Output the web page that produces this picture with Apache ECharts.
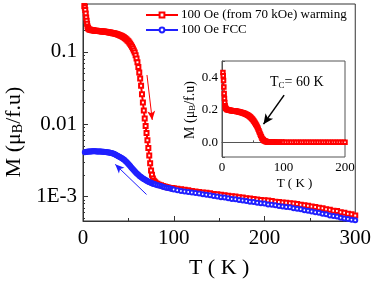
<!DOCTYPE html>
<html><head><meta charset="utf-8">
<script src="https://cdn.jsdelivr.net/npm/echarts@6/dist/echarts.min.js"></script>
<style>html,body{margin:0;padding:0;background:#fff}#c{width:374px;height:284px}</style>
</head><body><div id="c"></div><script>
// ---- data ----
const redName = '100 Oe (from 70 kOe) warming';
const blueName = '100 Oe FCC';
const redT = [1.5,2,2.5,3,3.5,4,4.5,5,5.5,6,7,8,9,10,11,12,13,14,15,16,17,18,19,20,21,22,23,24,25,26,27,28,29,30,31,32,33,34,35,36,37,38,39,40,41,42,43,44,45,46,47,48,49,50,51,52,53,54,55,56,57,58,59,60,61,62,63,64,65,66,67,68,69,70,71,72,73,74,75,76,77,78,79,80,82,84,86,88,90,92,94,96,98,100,104,108,112,116,120,124,128,132,136,140,144,148,152,156,160,164,168,172,176,180,184,188,192,196,200,204,208,212,216,220,224,228,232,236,240,244,248,252,256,260,264,268,272,276,280,284,288,292,296,300];
const redM = [0.43,0.41,0.38,0.34,0.30,0.27,0.245,0.225,0.215,0.21,0.205,0.202,0.201,0.2,0.199,0.198,0.197,0.196,0.196,0.195,0.195,0.194,0.193,0.193,0.192,0.192,0.191,0.19,0.19,0.189,0.188,0.187,0.186,0.185,0.184,0.183,0.182,0.181,0.18,0.178,0.177,0.175,0.173,0.171,0.169,0.167,0.165,0.162,0.159,0.156,0.152,0.148,0.144,0.14,0.135,0.13,0.124,0.118,0.112,0.105,0.098,0.09,0.081,0.072,0.062,0.052,0.043,0.034,0.026,0.02,0.0155,0.012,0.0095,0.0076,0.006,0.0047,0.0037,0.0029,0.0023,0.0020,0.00178,0.00166,0.0016,0.00156,0.0015,0.00146,0.00143,0.0014,0.00138,0.00136,0.00134,0.00132,0.00131,0.0013,0.00128,0.00126,0.00124,0.00122,0.0012,0.00118,0.00116,0.00114,0.00113,0.00111,0.00109,0.00108,0.00106,0.00104,0.00103,0.00101,0.001,0.00098,0.00097,0.00095,0.00094,0.00093,0.00091,0.0009,0.00089,0.00088,0.00087,0.00085,0.00084,0.00083,0.00082,0.00081,0.0008,0.00079,0.00077,0.00076,0.00075,0.00073,0.00072,0.0007,0.00069,0.00067,0.00066,0.00064,0.00063,0.00061,0.0006,0.00058,0.00057,0.00055];
const blueT = [2,3,4,5,6,7,8,9,10,11,12,13,14,15,16,17,18,19,20,21,22,23,24,25,26,27,28,29,30,31,32,33,34,35,36,37,38,39,40,41,42,43,44,45,46,47,48,49,50,51,52,53,54,55,56,57,58,59,60,61,62,63,64,65,66,67,68,69,70,71,72,73,74,75,76,77,78,79,80,82,84,86,88,90,92,94,96,98,100,104,108,112,116,120,124,128,132,136,140,144,148,152,156,160,164,168,172,176,180,184,188,192,196,200,204,208,212,216,220,224,228,232,236,240,244,248,252,256,260,264,268,272,276,280,284,288,292,296,300];
const blueM = [0.00412,0.00414,0.00416,0.00418,0.0042,0.00421,0.00422,0.00422,0.00423,0.00423,0.00423,0.00423,0.00423,0.00422,0.00422,0.00421,0.0042,0.0042,0.00419,0.00418,0.00417,0.00416,0.00415,0.00414,0.00412,0.0041,0.00408,0.00406,0.00404,0.00401,0.00398,0.00394,0.0039,0.00385,0.0038,0.00374,0.00368,0.00362,0.00356,0.0035,0.00344,0.00338,0.00332,0.00325,0.00317,0.00309,0.003,0.00291,0.00282,0.00273,0.00264,0.00255,0.00247,0.00239,0.00231,0.00224,0.00217,0.00211,0.00205,0.002,0.00195,0.0019,0.00186,0.00182,0.00178,0.00175,0.00172,0.00169,0.00166,0.00164,0.00161,0.00159,0.00157,0.00155,0.00153,0.00151,0.0015,0.00148,0.00147,0.00144,0.00142,0.0014,0.00137,0.00135,0.00133,0.00131,0.00129,0.00127,0.00125,0.00122,0.0012,0.00118,0.00116,0.00114,0.00112,0.0011,0.00108,0.00106,0.00104,0.00102,0.001,0.00098,0.00097,0.00095,0.00093,0.00092,0.0009,0.00088,0.00087,0.00085,0.00084,0.00082,0.00081,0.0008,0.00078,0.00077,0.00076,0.00074,0.00073,0.00072,0.00071,0.00069,0.00068,0.00067,0.00065,0.00064,0.00062,0.00061,0.0006,0.00058,0.00057,0.00055,0.00054,0.00053,0.00051,0.0005,0.00049,0.00048,0.00047];
const yTickValues = [0.1, 0.01, 0.001];
const yTickLabels = ['0.1', '0.01', '1E-3'];
const insetYTickValues = [0.0, 0.2, 0.4];
const insetYTickLabels = ['0.0', '0.2', '0.4'];
// arrows (annotation, in data coordinates)
const redArrow = [[70.5, 0.048], [76.3, 0.0115]];
const blueArrow = [[70, 0.00107], [35.5, 0.00279]];
const insetArrow = [[101, 0.29], [67.5, 0.112]];

// ---- chart ----
const FONT = 'Liberation Serif';
const RED = '#ff0000', BLUE = '#2020ff';
const redPairs = redT.map((t, i) => [t, redM[i]]);
const bluePairs = blueT.map((t, i) => [t, blueM[i]]);
const chart = echarts.init(document.getElementById('c'), null, {renderer: 'canvas'});

function logLabel(v) {
  for (let i = 0; i < yTickValues.length; i++) {
    if (Math.abs(Math.log10(v) - Math.log10(yTickValues[i])) < 1e-6) return yTickLabels[i];
  }
  return '';
}
function insetLabel(v) {
  for (let i = 0; i < insetYTickValues.length; i++) {
    if (Math.abs(v - insetYTickValues[i]) < 1e-6) return insetYTickLabels[i];
  }
  return '';
}
const axisCol = '#333';
const option = {
  animation: false,
  backgroundColor: '#fff',
  grid: [
    {left: 83, top: 4, width: 274, height: 220, show: true, borderColor: axisCol, borderWidth: 1},
    {left: 222, top: 61, width: 123, height: 96, show: true, borderColor: '#555', borderWidth: 1, backgroundColor: '#fff'}
  ],
  legend: {
    data: [redName, blueName], orient: 'vertical', left: 140, top: 3,
    itemWidth: 32, itemHeight: 6, itemGap: 1,
    textStyle: {fontFamily: FONT, fontSize: 13, lineHeight: 14, color: '#000', padding: [0,0,0,-2]}
  },
  xAxis: [
    {gridIndex: 0, type: 'value', min: 0, max: 300, interval: 100,
     axisLine: {lineStyle: {color: axisCol}}, axisTick: {inside: true, length: 5, lineStyle: {color: axisCol}},
     minorTick: {show: true, splitNumber: 2, length: 3, lineStyle: {color: axisCol}},
     splitLine: {show: false},
     axisLabel: {fontFamily: FONT, fontSize: 21, color: '#000', margin: 7},
     name: 'T ( K )', nameLocation: 'middle', nameGap: 36,
     nameTextStyle: {fontFamily: FONT, fontSize: 22, color: '#000'}},
    {gridIndex: 1, type: 'value', min: 0, max: 200, interval: 100,
     axisLine: {lineStyle: {color: '#555'}}, axisTick: {inside: true, length: 3, lineStyle: {color: '#555'}},
     minorTick: {show: true, splitNumber: 2, length: 2, lineStyle: {color: '#555'}},
     splitLine: {show: false},
     axisLabel: {fontFamily: FONT, fontSize: 13, color: '#000', margin: 4},
     name: 'T ( K )', nameLocation: 'middle', nameGap: 20,
     nameTextStyle: {fontFamily: FONT, fontSize: 13, color: '#000', padding: [0, 0, 0, 22]}}
  ],
  yAxis: [
    {gridIndex: 0, type: 'log', logBase: 10, min: 0.00046, max: 0.46,
     axisLine: {lineStyle: {color: axisCol}}, axisTick: {inside: true, length: 5, lineStyle: {color: axisCol}},
     minorTick: {show: true, splitNumber: 9, length: 2, lineStyle: {color: axisCol}},
     splitLine: {show: false},
     axisLabel: {fontFamily: FONT, fontSize: 21, color: '#000', margin: 6, formatter: logLabel, showMinLabel: true, showMaxLabel: true}},
    {gridIndex: 1, type: 'value', min: -0.09, max: 0.5, splitNumber: 3,
     axisLine: {lineStyle: {color: '#555'}}, axisTick: {inside: true, length: 3, lineStyle: {color: '#555'}},
     splitLine: {show: false},
     axisLabel: {fontFamily: FONT, fontSize: 13, color: '#000', margin: 4, formatter: insetLabel}},
  ],
  series: [
    {name: redName, type: 'line', xAxisIndex: 0, yAxisIndex: 0, data: redPairs,
     symbol: 'emptyRect', symbolSize: 4, showAllSymbol: true,
     itemStyle: {color: RED, borderWidth: 1}, lineStyle: {color: RED, width: 2}, z: 3,
     markLine: {silent: true, symbol: ['none', 'arrow'], symbolSize: [6, 9], label: {show: false},
       lineStyle: {color: RED, width: 1, type: 'solid'},
       data: [[{coord: redArrow[0]}, {coord: redArrow[1]}]]}},
    {name: blueName, type: 'line', xAxisIndex: 0, yAxisIndex: 0, data: bluePairs,
     symbol: 'emptyCircle', symbolSize: 4, showAllSymbol: true,
     itemStyle: {color: BLUE, borderWidth: 1}, lineStyle: {color: BLUE, width: 2}, z: 4,
     markLine: {silent: true, symbol: ['none', 'arrow'], symbolSize: [6, 9], label: {show: false},
       lineStyle: {color: BLUE, width: 1, type: 'solid'},
       data: [[{coord: blueArrow[0]}, {coord: blueArrow[1]}]]}},
    {name: 'inset', type: 'line', xAxisIndex: 1, yAxisIndex: 1, data: redPairs.filter(p => p[0] <= 200),
     symbol: 'emptyRect', symbolSize: 3.5, showAllSymbol: true,
     itemStyle: {color: RED, borderWidth: 1}, lineStyle: {color: RED, width: 1.5}, z: 5,
     markLine: {silent: true, symbol: ['none', 'arrow'], symbolSize: [7, 10], label: {show: false},
       lineStyle: {color: '#000', width: 1.5, type: 'solid'},
       data: [[{coord: insetArrow[0]}, {coord: insetArrow[1]}]]}}
  ],
  graphic: [
    {type: 'text', x: 14, y: 132, rotation: Math.PI / 2, z: 10,
     style: {text: '{a|M (μ}{s|B}{a|/f.u)}', align: 'center', verticalAlign: 'middle',
       rich: {a: {fontFamily: FONT, fontSize: 22, fill: '#000'}, s: {fontFamily: FONT, fontSize: 14, fill: '#000', padding: [9, 0, 0, 0]}}}},
    {type: 'text', x: 190, y: 110, rotation: Math.PI / 2, z: 10,
     style: {text: '{a|M (μ}{s|B}{a|/f.u)}', align: 'center', verticalAlign: 'middle',
       rich: {a: {fontFamily: FONT, fontSize: 14, fill: '#000'}, s: {fontFamily: FONT, fontSize: 9, fill: '#000', padding: [6, 0, 0, 0]}}}},
    {type: 'text', x: 270, y: 82, z: 10,
     style: {text: '{a|T}{s|C}{a|= 60 K}', align: 'left', verticalAlign: 'middle',
       rich: {a: {fontFamily: FONT, fontSize: 14, fill: '#000'}, s: {fontFamily: FONT, fontSize: 9, fill: '#000', padding: [7, 0, 0, 0]}}}}
  ]
};
chart.setOption(option);
</script></body></html>
